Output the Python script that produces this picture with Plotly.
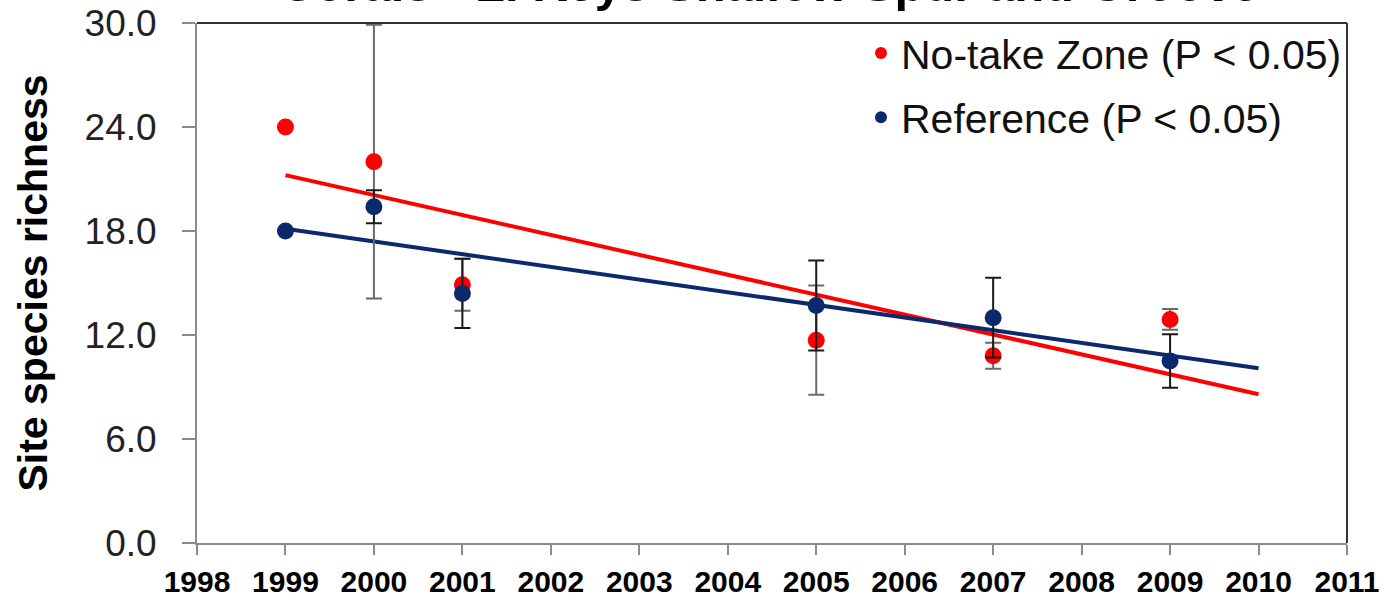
import numpy as np
import plotly.graph_objects as go

# ---- data ----
years = [1999, 2000, 2001, 2005, 2007, 2009]
notake = [24.0, 22.0, 14.9, 11.7, 10.8, 12.9]
notake_err = [0, 7.9, 1.5, 3.15, 0.75, 0.6]
reference = [18.0, 19.4, 14.4, 13.7, 13.0, 10.5]
reference_err = [0, 0.95, 2.0, 2.6, 2.3, 1.55]
trend_end = 2010
series_names = ["No-take Zone (P < 0.05)", "Reference (P < 0.05)"]
title_text = "Corals - L. Keys Shallow Spur and Groove"
y_title = "Site species richness"

RED = "#FF0000"
BLUE = "#0C2A6B"

fig = go.Figure()

# trend lines (least-squares fits of each series)
for vals, color in [(notake, RED), (reference, BLUE)]:
    fit = np.polyfit(years, vals, 1)
    tx = [years[0], trend_end]
    ty = np.polyval(fit, tx)
    fig.add_trace(go.Scatter(x=tx, y=ty, mode="lines",
                             line=dict(color=color, width=4),
                             showlegend=False, hoverinfo="skip"))

fig.add_trace(go.Scatter(
    x=years, y=notake, mode="markers", name=series_names[0],
    legendgroup="a",
    marker=dict(color=RED, size=17),
    error_y=dict(type="data", array=notake_err, visible=True,
                 color="#6A6A6A", thickness=2, width=8)))
fig.add_trace(go.Scatter(
    x=years, y=reference, mode="markers", name=series_names[1],
    legendgroup="b",
    marker=dict(color=BLUE, size=17),
    error_y=dict(type="data", array=reference_err, visible=True,
                 color="#1A1A1A", thickness=2, width=8)))

font_family = "Liberation Sans, Arial, sans-serif"

fig.update_layout(
    width=1387, height=611,
    margin=dict(l=197, r=40, t=22.5, b=68, autoexpand=False),
    paper_bgcolor="white", plot_bgcolor="white",
    font=dict(family=font_family, color="#111"),
    showlegend=True,
    legend=dict(x=1.0, xanchor="right", y=1.006, yanchor="top",
                font=dict(size=41, color="#111", family=font_family),
                bgcolor="rgba(0,0,0,0)", tracegroupgap=8,
                traceorder="grouped", itemsizing="constant"),
    xaxis=dict(range=[1998, 2011], tick0=1998, dtick=1,
               ticks="outside", ticklen=10, tickcolor="#8C8C8C", tickwidth=1.5,
               showline=True, linecolor="#8C8C8C", linewidth=2,
               showgrid=False, zeroline=False,
               tickfont=dict(size=30, color="#000", family=font_family, weight="bold"),
               ticklabelstandoff=1),
    yaxis=dict(range=[0, 30], tick0=0, dtick=6, tickformat=".1f",
               ticks="outside", ticklen=13, tickcolor="#8C8C8C", tickwidth=1.5,
               showline=True, linecolor="#8C8C8C", linewidth=2,
               showgrid=False, zeroline=False,
               tickfont=dict(size=37, color="#222", family=font_family),
               ticklabelstandoff=18,
               title=dict(text=y_title, standoff=24,
                          font=dict(size=41, color="#000", family=font_family,
                                    weight="bold"))),
    shapes=[
        dict(type="line", xref="paper", yref="paper", x0=0, x1=1, y0=1, y1=1,
             line=dict(color="#333", width=2)),
        dict(type="line", xref="paper", yref="paper", x0=1, x1=1, y0=0, y1=1,
             line=dict(color="#333", width=2)),
    ],
    annotations=[
        dict(text=title_text, xref="paper", yref="paper", x=0.497, y=1.02,
             xanchor="center", yanchor="bottom", showarrow=False,
             font=dict(size=49, color="#000", family=font_family, weight="bold")),
    ],
)

fig.write_html("out.html", config={"displayModeBar": False},
               post_script="document.body.style.margin='0';document.body.style.padding='0';")
